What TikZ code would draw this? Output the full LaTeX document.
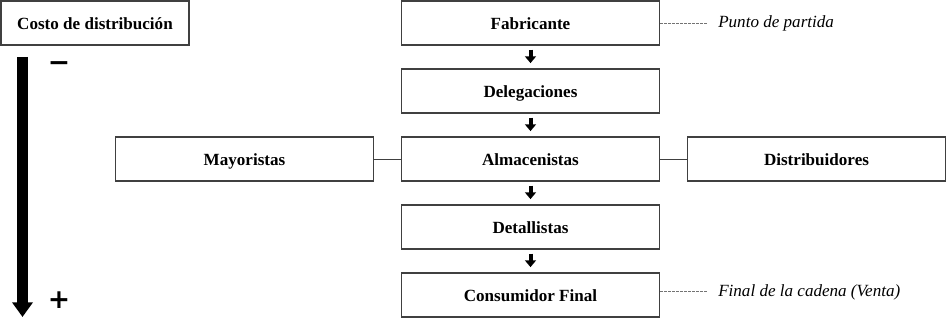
\documentclass[tikz,border=0pt]{standalone}
\usepackage{fontspec}
\setmainfont{Liberation Serif}
\newfontfamily\symfont{DejaVu Sans}
\usetikzlibrary{arrows.meta}
\begin{document}
\begin{tikzpicture}[x=0.75pt,y=-0.75pt,
  box/.style={draw=black!75,line width=0.8pt,fill=white,minimum height=33pt,inner sep=0pt,text height=12pt,text depth=1.5pt,font=\bfseries\fontsize{12.8}{14}\selectfont},
  wbox/.style={box,minimum width=194pt},
  smallarr/.style={line width=3pt,-{Triangle[width=8pt,length=5pt]}},
  note/.style={font=\itshape\fontsize{12.8}{14}\selectfont,anchor=base west,inner sep=0pt},
  dashlink/.style={draw=black!55,dashed,dash pattern=on 2pt off 1pt,line width=0.5pt},
  sign/.style={font=\symfont\bfseries\fontsize{20}{20}\selectfont,inner sep=0pt}]
\useasboundingbox (0,0) rectangle (947,320);
\node[box,minimum width=141pt] (costo) at (95,23) {Costo de distribución};
\node[wbox] (fab) at (530.5,23) {Fabricante};
\node[wbox] (del) at (530.5,91) {Delegaciones};
\node[wbox] (alm) at (530.5,159) {Almacenistas};
\node[wbox] (det) at (530.5,227) {Detallistas};
\node[wbox] (con) at (530.5,295) {Consumidor Final};
\node[wbox] (may) at (244.5,159) {Mayoristas};
\node[wbox] (dis) at (816.5,159) {Distribuidores};
\draw[draw=black!75,line width=0.6pt] (may.east) -- (alm.west);
\draw[draw=black!75,line width=0.6pt] (alm.east) -- (dis.west);
\foreach \a/\b in {fab/del,del/alm,alm/det,det/con}{
  \draw[smallarr] ([yshift=-3pt]\a.south) -- ([yshift=4pt]\b.north);
}
\node[note] (pp) at (718,27.5) {Punto de partida};
\node[note] (fc) at (718,297) {Final de la cadena (Venta)};
\draw[dashlink] (fab.east) -- ([xshift=-8pt]pp.west |- fab.east);
\draw[dashlink] ([yshift=3pt]con.east) -- ([xshift=-8pt,yshift=3pt]fc.west |- con.east);
\coordinate (atop) at (22.5,57);
\coordinate (abot) at (22.5,317);
\draw[line width=8.5pt,-{Triangle[width=15pt,length=11pt]}] (atop) -- (abot);
\node[sign] (minus) at (59,67) {−};
\node[sign] (plus) at (59,300) {+};
\end{tikzpicture}
\end{document}
